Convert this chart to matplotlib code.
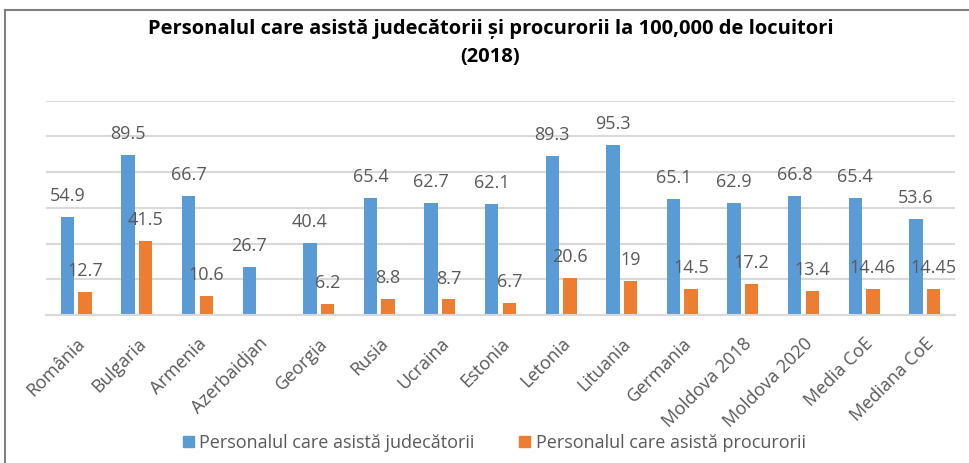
import numpy as np
import matplotlib.pyplot as plt
from matplotlib.patches import Patch
from matplotlib.lines import Line2D

tari = ['România', 'Bulgaria', 'Armenia', 'Azerbaidjan', 'Georgia', 'Rusia', 'Ucraina',
        'Estonia', 'Letonia', 'Lituania', 'Germania', 'Moldova 2018', 'Moldova 2020',
        'Media CoE', 'Mediana CoE']
judecatorii = [54.9, 89.5, 66.7, 26.7, 40.4, 65.4, 62.7, 62.1, 89.3, 95.3, 65.1, 62.9, 66.8, 65.4, 53.6]
procurorii = [12.7, 41.5, 10.6, None, 6.2, 8.8, 8.7, 6.7, 20.6, 19, 14.5, 17.2, 13.4, 14.46, 14.45]

albastru = '#5B9BD5'
portocaliu = '#ED7D31'
gri = '#595959'
font = ['Open Sans', 'DejaVu Sans']

plt.rcParams['font.family'] = font

fig = plt.figure(figsize=(9.69, 4.63), dpi=100)
ax = fig.add_axes([0.0475, 0.3197, 0.938, 0.4628])

x = np.arange(len(tari))
w = 0.22
off = 0.145
for i, v in enumerate(judecatorii):
    ax.bar(x[i] - off, v, w, color=albastru, zorder=2)
    ax.annotate(f'{v:g}', (x[i] - off, v), xytext=(0, 15), textcoords='offset points',
                ha='center', va='center', fontsize=13, color=gri)
for i, v in enumerate(procurorii):
    if v is None:
        continue
    ax.bar(x[i] + off, v, w, color=portocaliu, zorder=2)
    ax.annotate(f'{v:g}', (x[i] + off, v), xytext=(0, 15), textcoords='offset points',
                ha='center', va='center', fontsize=13, color=gri)

ax.set_xlim(-0.5, len(tari) - 0.5)
ax.set_ylim(0, 120)
ax.set_yticks(np.arange(0, 121, 20))
ax.yaxis.grid(True, color='#D9D9D9', linewidth=1.5, zorder=0)
ax.tick_params(axis='y', left=False, labelleft=False)
ax.tick_params(axis='x', length=0, pad=14)
ax.set_xticks(x)
ax.set_xticklabels(tari, rotation=45, ha='right', rotation_mode='anchor', fontsize=13, color=gri)
for s in ['top', 'right', 'left']:
    ax.spines[s].set_visible(False)
ax.spines['bottom'].set_color('#D9D9D9')
ax.spines['bottom'].set_linewidth(1.5)
ax.set_axisbelow(True)

fig.text(0.506, 0.907, 'Personalul care asistă judecătorii și procurorii la 100,000 de locuitori\n(2018)',
         ha='center', va='center', fontsize=14.5, fontweight='bold', linespacing=1.55)

handles = [Patch(color=albastru, label='Personalul care asistă judecătorii'),
           Patch(color=portocaliu, label='Personalul care asistă procurorii')]
fig.legend(handles=handles, loc='center', bbox_to_anchor=(0.51, 0.043), ncol=2, frameon=False,
           fontsize=13, labelcolor=gri, handlelength=0.6, handleheight=0.6, handletextpad=0.3,
           columnspacing=2.5)

# chenar
fig.add_artist(Line2D([5 / 969, 1], [1 - 10 / 463, 1 - 10 / 463], color='#7F7F7F', linewidth=1.5))
fig.add_artist(Line2D([5 / 969, 5 / 969], [0, 1 - 10 / 463], color='#7F7F7F', linewidth=1.5))

fig.savefig('out.png', dpi=100)
